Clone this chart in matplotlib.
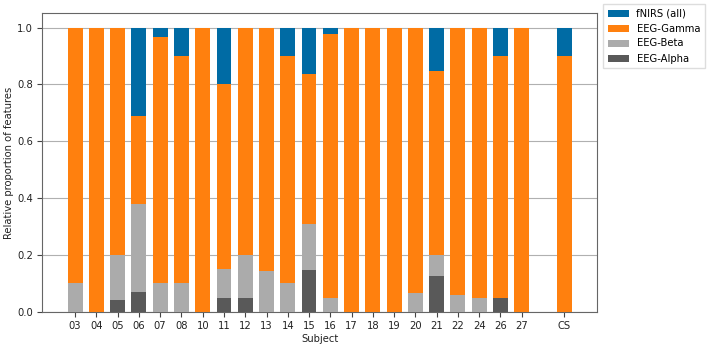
import matplotlib
matplotlib.use("Agg")
import matplotlib.pyplot as plt
import numpy as np

subjects = ["03", "04", "05", "06", "07", "08", "10", "11", "12", "13", "14",
            "15", "16", "17", "18", "19", "20", "21", "22", "24", "26", "27", "CS"]
positions = list(range(22)) + [23]

eeg_alpha = [0.00, 0.00, 0.04, 0.07, 0.00, 0.00, 0.00, 0.05, 0.05, 0.00, 0.00,
             0.147, 0.00, 0.00, 0.00, 0.00, 0.00, 0.124, 0.00, 0.00, 0.05, 0.00, 0.00]
eeg_beta = [0.10, 0.00, 0.16, 0.308, 0.10, 0.10, 0.00, 0.10, 0.15, 0.145, 0.10,
            0.162, 0.05, 0.00, 0.00, 0.00, 0.067, 0.075, 0.058, 0.05, 0.00, 0.00, 0.00]
eeg_gamma = [0.90, 1.00, 0.80, 0.311, 0.868, 0.80, 1.00, 0.65, 0.80, 0.855, 0.80,
             0.527, 0.928, 1.00, 1.00, 1.00, 0.933, 0.648, 0.942, 0.95, 0.85, 1.00, 0.90]
fnirs = [0.00, 0.00, 0.00, 0.311, 0.032, 0.10, 0.00, 0.20, 0.00, 0.00, 0.10,
         0.164, 0.022, 0.00, 0.00, 0.00, 0.00, 0.153, 0.00, 0.00, 0.10, 0.00, 0.10]

c_fnirs = "#006BA4"
c_gamma = "#FF800E"
c_beta = "#ABABAB"
c_alpha = "#595959"

fs = 7.2
fig = plt.figure(figsize=(7.08, 3.45), dpi=100)
ax = fig.add_axes([0.060, 0.0965, 0.783, 0.8645])

w = 0.7
a = np.array(eeg_alpha)
b = np.array(eeg_beta)
g = np.array(eeg_gamma)
f = np.array(fnirs)
h_a = ax.bar(positions, a, w, color=c_alpha, label="EEG-Alpha", zorder=3)
h_b = ax.bar(positions, b, w, bottom=a, color=c_beta, label="EEG-Beta", zorder=3)
h_g = ax.bar(positions, g, w, bottom=a + b, color=c_gamma, label="EEG-Gamma", zorder=3)
h_f = ax.bar(positions, f, w, bottom=a + b + g, color=c_fnirs, label="fNIRS (all)", zorder=3)

ax.set_xlim(-1.535, 24.535)
ax.set_ylim(0, 1.05)
ax.set_xticks(positions)
ax.set_xticklabels(subjects)
ax.set_yticks([0, 0.2, 0.4, 0.6, 0.8, 1.0])
ax.yaxis.grid(True, color="#b0b0b0", linewidth=0.8, zorder=0)
ax.set_axisbelow(True)
ax.tick_params(labelsize=fs, colors="#444444", labelcolor="#222222")
for s in ax.spines.values():
    s.set_color("#666666")
ax.set_xlabel("Subject", fontsize=fs, color="#222222", labelpad=2)
ax.set_ylabel("Relative proportion of features", fontsize=fs, color="#222222", labelpad=2)

fig.legend([h_f, h_g, h_b, h_a], ["fNIRS (all)", "EEG-Gamma", "EEG-Beta", "EEG-Alpha"],
           loc="upper left", bbox_to_anchor=(603 / 708, 1 - 4 / 345),
           bbox_transform=fig.transFigure, borderaxespad=0, fontsize=fs,
           fancybox=False, framealpha=1, edgecolor="#dddddd",
           handlelength=2.1, handleheight=0.7, labelspacing=0.5,
           handletextpad=0.8, borderpad=0.45)

fig.savefig("out.png", dpi=100)
